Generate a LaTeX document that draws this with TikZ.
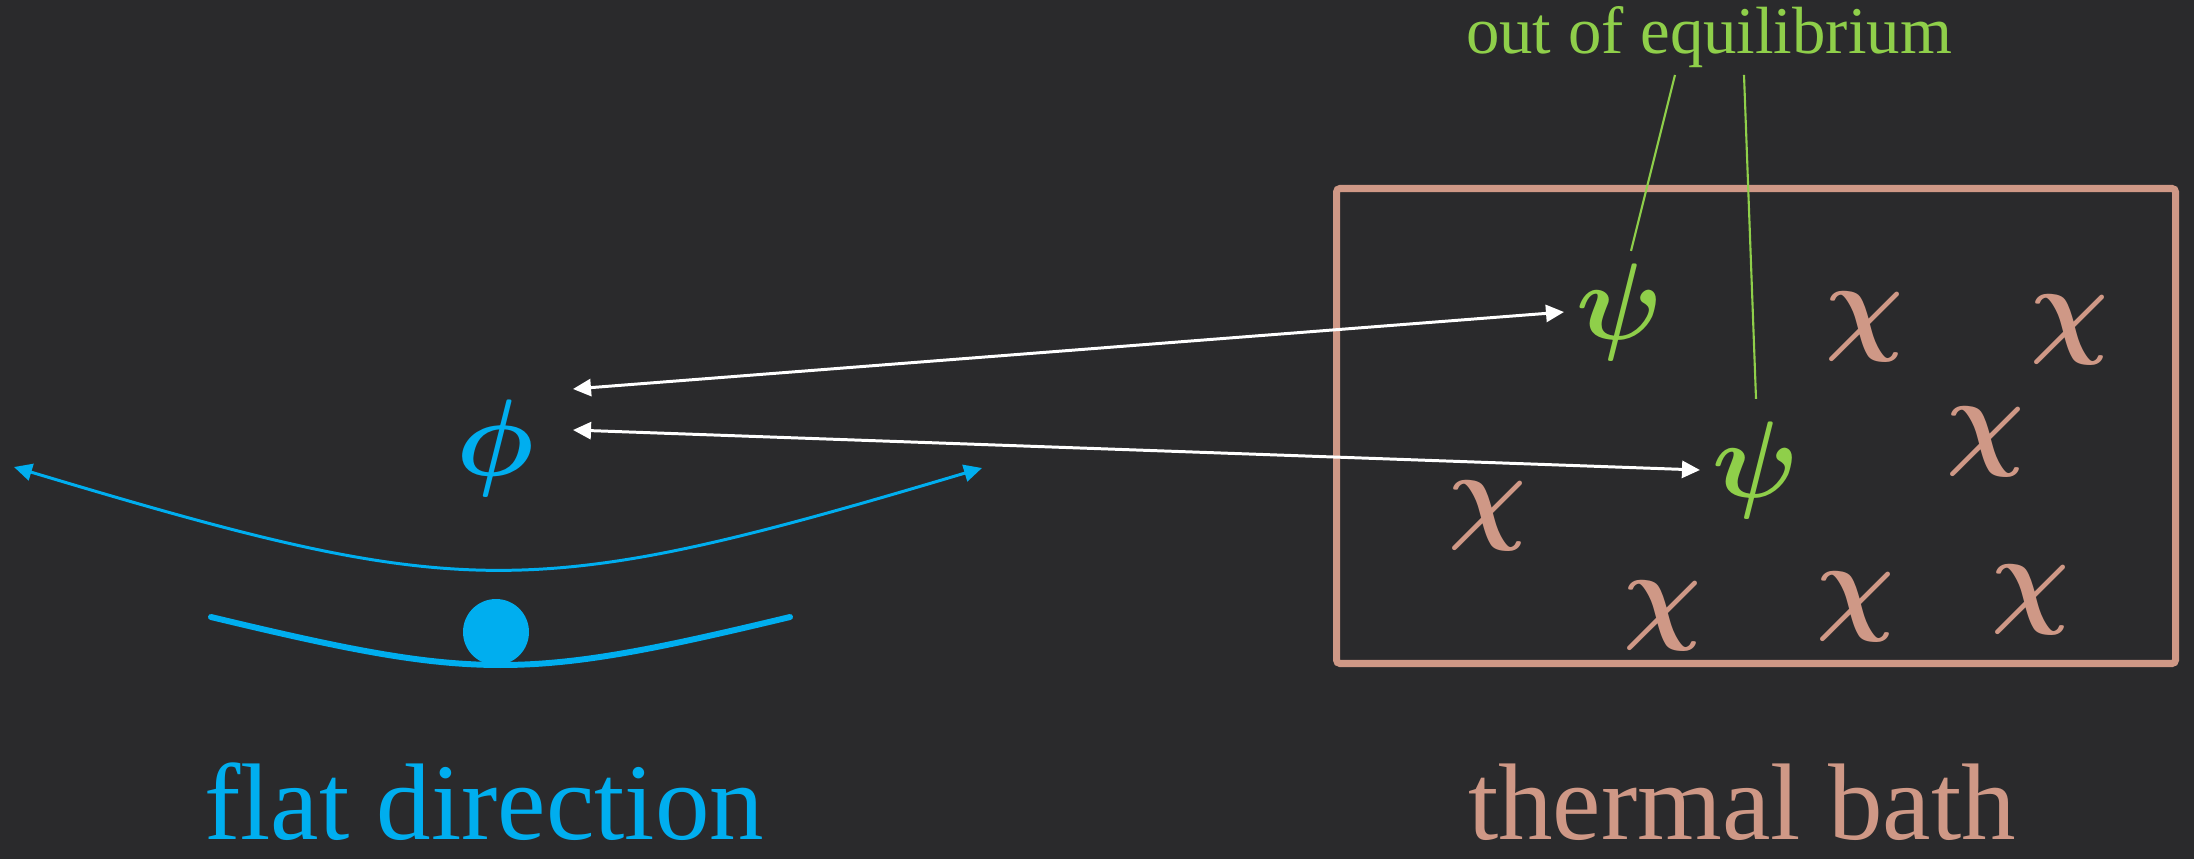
\documentclass[tikz,border=0pt]{standalone}
\usepackage{fontspec}
\setmainfont{Liberation Serif}
\DeclareFontShape{OML}{cmm}{m}{it}{<->cmmi10}{}
\DeclareFontShape{OML}{cmm}{b}{it}{<->cmmib10}{}
\usepackage{xcolor}
\usepackage{tikz}
\usetikzlibrary{positioning, arrows.meta}
\definecolor{boardgray}{HTML}{2A2A2C}
\definecolor{flatblue}{HTML}{00AEEF}
\definecolor{bathpink}{HTML}{CF9886}
\definecolor{neqgreen}{HTML}{8FCF4A}

\begin{document}
\begin{tikzpicture}[
    field/.style={inner sep=0.12cm, font=\fontsize{31}{31}\selectfont\boldmath},
    chi/.style={field, text=bathpink},
    caption/.style={font=\fontsize{31}{31}\selectfont, anchor=base, inner sep=0},
    swap/.style={white, line width=0.85pt,
      {Triangle[length=0.18cm,width=0.17cm]}-{Triangle[length=0.18cm,width=0.17cm]}}
  ]
  \fill[boardgray] (0,0) rectangle (21.94,8.59);
  \useasboundingbox (0,0) rectangle (21.94,8.59);

  \node[draw=bathpink, line width=2pt, rounded corners=1pt, inner sep=0,
        minimum width=8.39cm, minimum height=4.75cm, anchor=south west] (bath) at (13.33,1.92) {};

  \node[field, text=flatblue] (phi) at (4.95,4.11) {$\phi$};
  \node[field, text=neqgreen] (psiA) at (16.20,5.47) {$\psi$};
  \node[field, text=neqgreen] (psiB) at (17.56,3.89) {$\psi$};
  \foreach \cx/\cy [count=\i] in {18.65/5.32, 20.70/5.29, 19.86/4.17, 14.88/3.43,
                                   16.63/2.43, 18.56/2.52, 20.31/2.59}
    \node[chi] (chi\i) at (\cx,\cy) {$\chi$};

  \node[text=neqgreen, font=\fontsize{19}{19}\selectfont, anchor=base, inner sep=2pt] (neq)
    at (17.09,8.06) {out of equilibrium};
  \node[caption, text=flatblue] (flat) at (4.84,0.2) {flat direction};
  \node[caption, text=bathpink] (thermal) at (17.42,0.2) {thermal bath};

  \coordinate (phiA) at (5.73,4.70);
  \coordinate (phiB) at (5.73,4.29);
  \draw[swap] (phiA) -- (psiA.west);
  \draw[swap] (phiB) -- (psiB.west);

  \draw[neqgreen, line width=0.6pt] ([xshift=-0.34cm]neq.south) -- ([xshift=0.11cm]psiA.north);
  \draw[neqgreen, line width=0.6pt] ([xshift=0.35cm]neq.south) -- ([yshift=0.1cm]psiB.north);

  \coordinate (swingL) at (0.14,3.92);
  \coordinate (swingR) at (9.82,3.91);
  \draw[flatblue, line width=0.85pt,
        {Triangle[length=0.18cm,width=0.17cm]}-{Triangle[length=0.18cm,width=0.17cm]}]
    (swingL) .. controls (4.67,2.56) and (5.29,2.56) .. (swingR);

  \coordinate (valleyL) at (2.11,2.42);
  \coordinate (valleyR) at (7.90,2.42);
  \draw[flatblue, line width=1.7pt, line cap=round]
    (valleyL) .. controls (4.78,1.78) and (5.23,1.78) .. (valleyR);
  \node[circle, fill=flatblue, minimum size=0.66cm, inner sep=0] (ball) at (4.96,2.27) {};
\end{tikzpicture}
\end{document}
